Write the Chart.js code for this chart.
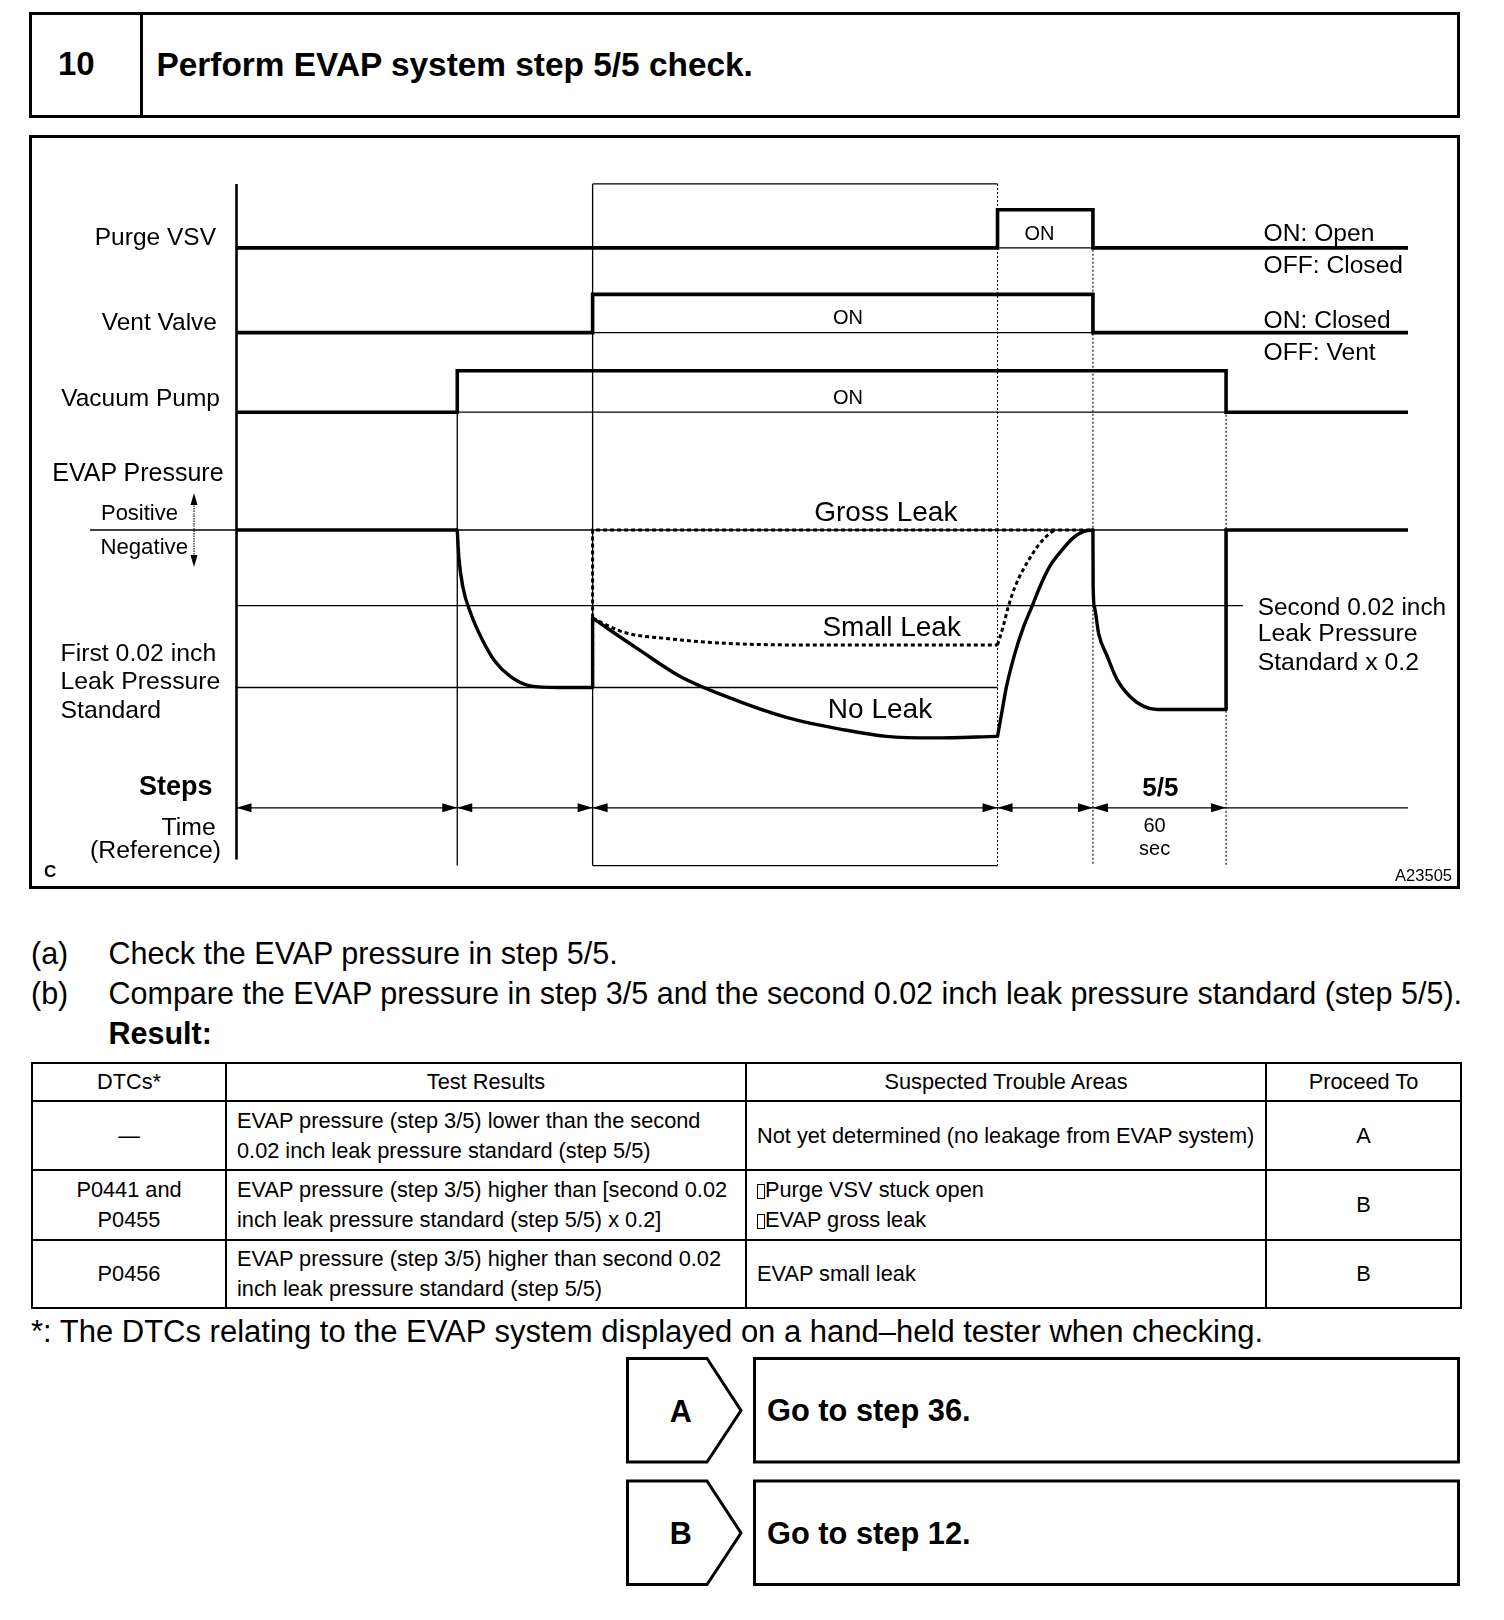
<!DOCTYPE html>
<html>
<head>
<meta charset="utf-8">
<script src="https://cdn.jsdelivr.net/npm/chart.js@4.4.1/dist/chart.umd.min.js"></script>
<style>
  html, body { margin: 0; padding: 0; background: #fff; }
  body { width: 1504px; height: 1620px; position: relative; overflow: hidden;
         font-family: "Liberation Sans", Arial, Helvetica, sans-serif; color: #000; }
  .t { position: absolute; white-space: nowrap; line-height: 1.15; z-index: 5; }
  .box { position: absolute; border: 3px solid #000; box-sizing: border-box; }
  #diagram { position: absolute; left: 29px; top: 136px; z-index: 3; }
  #res { position: absolute; left: 31px; top: 1062px; width: 1429px; border-collapse: collapse;
         table-layout: fixed; font-size: 21.75px; line-height: 30px; z-index: 5; }
  #res th, #res td { border: 2.6px solid #000; padding: 0 0 0 10px; vertical-align: middle; font-weight: normal; }
  #res th, #res td.c { text-align: center; padding: 0; }
  .tofu { display: inline-block; width: 8px; height: 15px; border: 1.3px solid #000; box-sizing: border-box;
          vertical-align: -2px; margin-right: 0px; }
  svg#shapes { position: absolute; left: 0; top: 0; z-index: 2; }
</style>
</head>
<body>

<div class="box" style="left:29px;top:12px;width:1431px;height:106px;"></div>
<div style="position:absolute;left:140px;top:12px;width:3px;height:106px;background:#000;"></div>
<div class="box" style="left:29px;top:135px;width:1431px;height:754px;"></div>

<canvas id="diagram" width="1431" height="752"></canvas>

<svg id="shapes" width="1504" height="1620">
  <polygon points="627.5,1358.5 707,1358.5 741,1410.5 707,1462 627.5,1462" fill="none" stroke="#000" stroke-width="3"/>
  <rect x="754.5" y="1358.5" width="704" height="103.5" fill="none" stroke="#000" stroke-width="3"/>
  <polygon points="627.5,1481 707,1481 741,1533 707,1584.5 627.5,1584.5" fill="none" stroke="#000" stroke-width="3"/>
  <rect x="754.5" y="1481" width="704" height="103.5" fill="none" stroke="#000" stroke-width="3"/>
</svg>

<table id="res">
  <colgroup><col style="width:194px"><col style="width:520px"><col style="width:520px"><col style="width:195px"></colgroup>
  <tr style="height:38px"><th>DTCs*</th><th>Test Results</th><th>Suspected Trouble Areas</th><th>Proceed To</th></tr>
  <tr style="height:69px"><td class="c">—</td><td>EVAP pressure (step 3/5) lower than the second<br>0.02 inch leak pressure standard (step 5/5)</td><td>Not yet determined (no leakage from EVAP system)</td><td class="c">A</td></tr>
  <tr style="height:70px"><td class="c">P0441 and<br>P0455</td><td>EVAP pressure (step 3/5) higher than [second 0.02<br>inch leak pressure standard (step 5/5) x 0.2]</td><td><span class="tofu"></span>Purge VSV stuck open<br><span class="tofu"></span>EVAP gross leak</td><td class="c">B</td></tr>
  <tr style="height:68px"><td class="c">P0456</td><td>EVAP pressure (step 3/5) higher than second 0.02<br>inch leak pressure standard (step 5/5)</td><td>EVAP small leak</td><td class="c">B</td></tr>
</table>

<script>
// ---------------- DATA ----------------
// Time axis in reference seconds (step 5/5 lasts 60 sec)
const stepBoundaries = [0, 99.5, 160.5, 343, 386, 446];
const timeEnd = 528;
const stepNames = ['', '', '', '', '5/5'];

// Digital signals: [time, state] (0 = OFF, 1 = ON)
const signalNames = ['Purge VSV', 'Vent Valve', 'Vacuum Pump'];
const purgeVSV   = [[0, 0], [343, 1], [386, 0], [528, 0]];
const ventValve  = [[0, 0], [160.5, 1], [386, 0], [528, 0]];
const vacuumPump = [[0, 0], [99.5, 1], [446, 0], [528, 0]];
const signalStateText = [['ON: Open', 'OFF: Closed'], ['ON: Closed', 'OFF: Vent']];

// EVAP pressure (relative: 0 = atmospheric, -1 = first 0.02 inch leak pressure standard)
const firstStandard  = -1.0;
const secondStandard = -0.48;
const evapIdle       = [[0, 0], [99.5, 0]];
const evapPumpDown   = [[99.5, 0], [100.2, -0.17], [102, -0.36], [105.6, -0.53], [110.9, -0.70], [116.3, -0.83], [123.4, -0.93], [132.3, -0.99], [145, -1.0], [160.5, -1.0]];
const evapJump       = [[160.5, -1.0], [160.5, -0.56]];
const evapNoLeak     = [[160.5, -0.56], [181.4, -0.76], [200, -0.93], [221.2, -1.06], [247.8, -1.19], [274.3, -1.27], [292.9, -1.31], [314.2, -1.32], [343, -1.31]];
const evapRecover    = [[343, -1.31], [344.9, -1.16], [347.1, -0.99], [350.9, -0.78], [354.6, -0.62], [358.4, -0.49], [362.1, -0.36], [366.6, -0.23], [371.9, -0.13], [377.1, -0.05], [381.6, -0.01], [386, 0]];
const evapStep5      = [[386, 0], [386.1, -0.36], [386.7, -0.49], [388.6, -0.66], [392.4, -0.80], [396.9, -0.95], [402.9, -1.06], [408.9, -1.12], [414.9, -1.14], [446, -1.14]];
const evapEnd        = [[446, -1.14], [446, 0], [528, 0]];
const smallLeakHold  = [[160.5, -0.56], [174.7, -0.65], [194.7, -0.69], [221.2, -0.72], [261, -0.73], [343, -0.73]];
const smallLeakRise  = [[343, -0.73], [345.6, -0.61], [347.8, -0.49], [350.9, -0.36], [354.6, -0.25], [358.4, -0.16], [362.1, -0.085], [366.6, -0.02], [368.9, 0]];
const grossLeak      = [[160.5, -1.0], [160.5, 0], [386, 0]];
const leakCases      = ['Gross Leak', 'Small Leak', 'No Leak'];

// ---------------- LAYOUT ----------------
const CANVAS = { left: 29, top: 136 };
const AREA = { left: 236.5, top: 183.9, right: 1408, bottom: 865.6 };   // page pixels
const ROWS = { purge: [247.9, 209.7], vent: [332.6, 294.4], pump: [412.2, 370.8], evap: [530, 372.5] }; // page y of value 0 and 1
const ZERO_LINE_START = -66;     // time units, label separator left of axis
const SECOND_STD_END = 453.6;

function bandAxis(pair) {
  const H = AREA.bottom - AREA.top, k = pair[0] - pair[1];
  const min = -(AREA.bottom - pair[0]) / k;
  return { type: 'linear', display: false, bounds: 'data', min: min, max: min + H / k };
}
const pts = a => a.map(p => ({ x: p[0], y: p[1] }));

const THICK = 3.6, CURVE = 3.4, THIN = 1.3;
function ds(data, axis, extra) {
  return Object.assign({ data: pts(data), yAxisID: axis, showLine: true, borderColor: '#000', borderWidth: THIN,
    pointRadius: 0, fill: false, clip: false, tension: 0, borderCapStyle: 'butt', borderJoinStyle: 'miter' }, extra || {});
}
const mono = { cubicInterpolationMode: 'monotone', borderWidth: CURVE, borderCapStyle: 'round', borderJoinStyle: 'round' };
const dotted = { borderWidth: 3, borderDash: [4, 3], borderCapStyle: 'butt' };

const datasets = [
  // thin baselines under ON pulses
  ds([[purgeVSV[1][0], 0], [purgeVSV[2][0], 0]], 'yPurge'),
  ds([[ventValve[1][0], 0], [ventValve[2][0], 0]], 'yVent'),
  ds([[vacuumPump[1][0], 0], [vacuumPump[2][0], 0]], 'yPump'),
  // thin reference lines
  ds([[ZERO_LINE_START, 0], [timeEnd, 0]], 'yEvap'),
  ds([[0, secondStandard], [SECOND_STD_END, secondStandard]], 'yEvap'),
  ds([[0, firstStandard], [stepBoundaries[3], firstStandard]], 'yEvap'),
  // digital signals
  ds(purgeVSV, 'yPurge', { stepped: 'before', borderWidth: THICK }),
  ds(ventValve, 'yVent', { stepped: 'before', borderWidth: THICK }),
  ds(vacuumPump, 'yPump', { stepped: 'before', borderWidth: THICK }),
  // EVAP pressure - dotted cases
  ds(grossLeak, 'yEvap', dotted),
  ds(smallLeakHold, 'yEvap', Object.assign({ cubicInterpolationMode: 'monotone' }, dotted)),
  ds(smallLeakRise, 'yEvap', Object.assign({ cubicInterpolationMode: 'monotone' }, dotted)),
  // EVAP pressure - solid (no leak)
  ds(evapIdle, 'yEvap', { borderWidth: THICK }),
  ds(evapPumpDown, 'yEvap', mono),
  ds(evapJump, 'yEvap', { borderWidth: CURVE }),
  ds(evapNoLeak, 'yEvap', mono),
  ds(evapRecover, 'yEvap', mono),
  ds(evapStep5, 'yEvap', mono),
  ds(evapEnd, 'yEvap', { borderWidth: THICK, borderJoinStyle: 'miter' })
];

function line(ctx, x1, y1, x2, y2, w, dash) {
  ctx.beginPath(); ctx.lineWidth = w; ctx.setLineDash(dash || []);
  ctx.moveTo(x1, y1); ctx.lineTo(x2, y2); ctx.stroke(); ctx.setLineDash([]);
}
function head(ctx, tipX, tipY, dx, dy, len, hw) {
  const nx = -dy, ny = dx;
  ctx.beginPath(); ctx.moveTo(tipX, tipY);
  ctx.lineTo(tipX + dx * len + nx * hw, tipY + dy * len + ny * hw);
  ctx.lineTo(tipX + dx * len - nx * hw, tipY + dy * len - ny * hw);
  ctx.closePath(); ctx.fill();
}

const framePlugin = {
  id: 'frame',
  beforeDatasetsDraw(chart) {
    const { ctx, chartArea: ca, scales } = chart;
    const X = v => scales.x.getPixelForValue(v);
    const b = stepBoundaries;
    ctx.save(); ctx.strokeStyle = '#000'; ctx.fillStyle = '#000';
    // time axis origin
    line(ctx, X(b[0]), ca.top, X(b[0]), ca.bottom - 6, 2.6);
    // vacuum pump ON edge
    line(ctx, X(b[1]), scales.yPump.getPixelForValue(1), X(b[1]), ca.bottom, THIN);
    // step 3/5 frame
    line(ctx, X(b[2]), ca.top, X(b[2]), ca.bottom, THIN);
    line(ctx, X(b[2]), ca.top, X(b[3]), ca.top, THIN);
    line(ctx, X(b[2]), ca.bottom, X(b[3]), ca.bottom, THIN);
    line(ctx, X(b[3]), ca.top, X(b[3]), ca.bottom, 1.1, [2, 2]);
    // dotted step edges
    line(ctx, X(b[4]), scales.yPurge.getPixelForValue(1), X(b[4]), ca.bottom, 1.1, [2, 2]);
    line(ctx, X(b[5]), scales.yPump.getPixelForValue(1), X(b[5]), ca.bottom, 1.1, [2, 2]);
    // positive / negative arrow
    const z = scales.yEvap.getPixelForValue(0), ax = 194 - CANVAS.left;
    line(ctx, ax, z - 32, ax, z + 32, 1.1, [1.5, 1]);
    head(ctx, ax, z - 37, 0, 1, 12, 3.5);
    head(ctx, ax, z + 37, 0, -1, 12, 3.5);
    ctx.restore();
  },
  afterDatasetsDraw(chart) {
    const { ctx, chartArea: ca, scales } = chart;
    const X = v => scales.x.getPixelForValue(v);
    const y = ca.bottom - 57.8;
    ctx.save(); ctx.strokeStyle = '#000'; ctx.fillStyle = '#000';
    line(ctx, X(stepBoundaries[0]), y, ca.right, y, THIN);
    for (let i = 0; i < stepBoundaries.length - 1; i++) {
      head(ctx, X(stepBoundaries[i]), y, 1, 0, 15, 4.5);
      head(ctx, X(stepBoundaries[i + 1]), y, -1, 0, 15, 4.5);
    }
    ctx.restore();
  }
};

new Chart(document.getElementById('diagram'), {
  type: 'scatter',
  data: { datasets: datasets },
  options: {
    responsive: false, animation: false, devicePixelRatio: 1, events: [],
    layout: { padding: { left: AREA.left - CANVAS.left, top: AREA.top - CANVAS.top, right: 1460 - AREA.right, bottom: 888 - AREA.bottom } },
    plugins: { legend: { display: false }, tooltip: { enabled: false } },
    scales: {
      x: { type: 'linear', display: false, bounds: 'data', min: 0, max: timeEnd },
      y: { type: 'linear', display: false },
      yPurge: bandAxis(ROWS.purge),
      yVent: bandAxis(ROWS.vent),
      yPump: bandAxis(ROWS.pump),
      yEvap: bandAxis(ROWS.evap)
    }
  },
  plugins: [framePlugin]
});

// ---------------- TEXT ----------------
function addText(txt, x, y, size, align, bold) {
  const d = document.createElement('div');
  d.className = 't'; d.textContent = txt;
  d.style.left = x + 'px'; d.style.top = y + 'px'; d.style.fontSize = size + 'px';
  if (bold) d.style.fontWeight = 'bold';
  const tx = align === 'right' ? '-100%' : align === 'center' ? '-50%' : '0';
  d.style.transform = 'translate(' + tx + ',-50%)';
  document.body.appendChild(d);
}
// header
addText('10', 58, 64, 33, 'left', true);
addText('Perform EVAP system step 5/5 check.', 156.5, 65, 33.4, 'left', true);
// diagram labels
addText(signalNames[0], 216, 236.7, 24.5, 'right');
addText(signalNames[1], 217, 321.7, 24.5, 'right');
addText(signalNames[2], 220, 397.7, 24.5, 'right');
addText('EVAP Pressure', 223.6, 472.3, 25, 'right');
addText('Positive', 178, 512.5, 22, 'right');
addText('Negative', 188, 547, 22.2, 'right');
addText('First 0.02 inch', 60.5, 653.3, 24.8, 'left');
addText('Leak Pressure', 60.5, 681, 24.8, 'left');
addText('Standard', 60.5, 710, 24.8, 'left');
addText('Steps', 212.6, 786.7, 27, 'right', true);
addText('Time', 215.7, 826.7, 24.8, 'right');
addText('(Reference)', 221, 850, 24.8, 'right');
addText('C', 44, 872, 17, 'left', true);
addText('A23505', 1452, 875, 16.5, 'right');
addText('ON', 1039.4, 233.3, 20, 'center');
addText('ON', 848, 316.7, 20, 'center');
addText('ON', 848, 396.7, 20, 'center');
addText(signalStateText[0][0], 1263.6, 233.3, 24.6, 'left');
addText(signalStateText[0][1], 1263.6, 265, 24.6, 'left');
addText(signalStateText[1][0], 1263.6, 320, 24.6, 'left');
addText(signalStateText[1][1], 1263.6, 351.7, 24.6, 'left');
addText(leakCases[0], 885.8, 511.7, 28, 'center');
addText(leakCases[1], 891.7, 626.7, 28, 'center');
addText(leakCases[2], 880, 709.3, 28, 'center');
addText('Second 0.02 inch', 1257.7, 606.7, 24.4, 'left');
addText('Leak Pressure', 1257.7, 633.3, 24.8, 'left');
addText('Standard x 0.2', 1257.7, 661.7, 24.8, 'left');
addText(stepNames[4], 1160.4, 788.3, 26, 'center', true);
addText('60', 1154.6, 825, 20, 'center');
addText('sec', 1154.6, 848.3, 20, 'center');
// body text
addText('(a)', 31, 953.5, 30.5, 'left');
addText('Check the EVAP pressure in step 5/5.', 108.5, 953.5, 30.5, 'left');
addText('(b)', 31, 993.7, 30.5, 'left');
addText('Compare the EVAP pressure in step 3/5 and the second 0.02 inch leak pressure standard (step 5/5).', 108.5, 993.7, 30.5, 'left');
addText('Result:', 108.5, 1034, 30.5, 'left', true);
addText('*: The DTCs relating to the EVAP system displayed on a hand\u2013held tester when checking.', 31, 1331.7, 31, 'left');
addText('A', 680.7, 1411.7, 30.5, 'center', true);
addText('Go to step 36.', 767, 1411, 30.8, 'left', true);
addText('B', 680.7, 1534, 30.5, 'center', true);
addText('Go to step 12.', 767, 1533.5, 30.8, 'left', true);
</script>
</body>
</html>
